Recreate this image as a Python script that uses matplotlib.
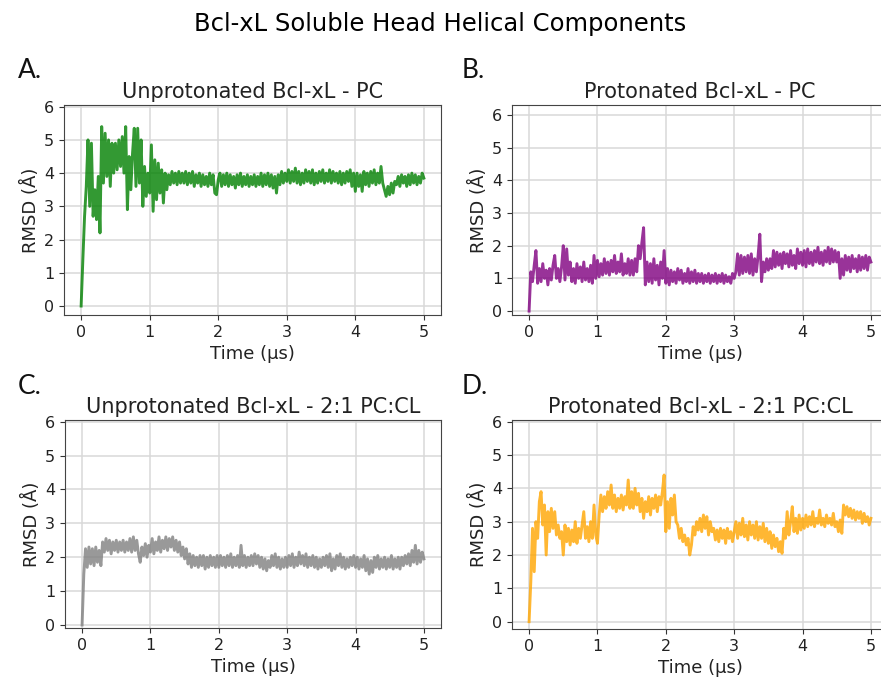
import numpy as np
import matplotlib
matplotlib.use("Agg")
import matplotlib.pyplot as plt

# sampling grid: one frame every 0.025 us, 0..5 us
time_us = np.arange(201) * 0.025

unprot_pc = [
    0.0, 1.4, 2.7, 3.6, 5.0, 3.0, 4.9, 2.7, 3.5, 2.6, 3.9, 2.2, 5.4, 3.7, 5.2, 3.9, 5.0, 3.6, 4.9, 4.0,
    4.9, 4.1, 5.0, 4.2, 5.1, 4.0, 5.4, 2.9, 4.5, 3.5, 4.6, 5.35, 3.6, 5.35, 3.7, 5.0, 3.0, 4.2, 3.3, 4.0,
    3.4, 4.85, 2.85, 4.4, 3.2, 4.3, 3.4, 4.1, 3.1, 4.0, 3.5, 3.95, 3.65, 4.05, 3.7, 4.0, 3.65, 4.05, 3.7, 4.0,
    3.7, 4.05, 3.65, 4.0, 3.7, 4.05, 3.6, 3.95, 3.7, 4.0, 3.6, 3.95, 3.65, 3.9, 3.6, 4.0, 3.65, 3.95, 3.4, 3.35,
    3.8, 4.0, 3.6, 3.95, 3.65, 4.0, 3.6, 3.95, 3.65, 3.9, 3.55, 3.95, 3.65, 4.0, 3.6, 3.9, 3.65, 3.95, 3.6, 3.9,
    3.65, 3.95, 3.6, 3.9, 3.65, 4.0, 3.6, 3.95, 3.65, 4.0, 3.6, 3.95, 3.55, 3.9, 3.4, 3.95, 3.65, 4.05, 3.7, 4.0,
    3.75, 4.1, 3.7, 4.05, 3.75, 4.15, 3.7, 4.05, 3.65, 4.0, 3.7, 4.1, 3.75, 4.05, 3.7, 4.1, 3.65, 4.0, 3.7, 4.05,
    3.75, 4.1, 3.7, 4.0, 3.75, 4.1, 3.7, 4.05, 3.75, 4.0, 3.7, 4.05, 3.65, 4.0, 3.7, 4.05, 3.75, 4.1, 3.6, 4.0,
    3.45, 4.0, 3.6, 3.95, 3.45, 4.05, 3.65, 4.0, 3.6, 4.05, 3.7, 4.1, 3.65, 4.0, 3.7, 4.2, 3.7, 3.5, 3.3, 3.6,
    3.35, 3.7, 3.4, 3.75, 3.65, 3.9, 3.6, 3.95, 3.7, 3.9, 3.6, 3.95, 3.65, 4.0, 3.7, 3.95, 3.65, 3.9, 3.7, 4.0,
    3.85,
]

prot_pc = [
    0.0, 1.2, 0.9, 1.4, 1.85, 0.85, 1.3, 0.9, 1.45, 1.0, 1.25, 0.8, 1.3, 0.95, 1.4, 1.7, 1.0, 1.3, 0.9, 1.35,
    2.0, 0.95, 1.9, 1.1, 1.5, 0.9, 1.3, 0.85, 1.45, 1.0, 1.35, 0.9, 1.5, 0.95, 1.3, 0.9, 1.4, 0.85, 1.7, 1.0,
    1.55, 1.05, 1.45, 1.1, 1.6, 1.15, 1.5, 1.1, 1.55, 1.2, 1.7, 1.15, 1.5, 1.2, 1.75, 1.1, 1.45, 1.15, 1.6, 1.1,
    1.55, 1.1, 1.6, 1.2, 2.0, 1.6, 2.1, 2.55, 0.8, 1.5, 0.9, 1.45, 0.85, 1.6, 0.95, 1.4, 0.8, 1.5, 1.0, 1.85,
    0.85, 1.3, 0.8, 1.25, 0.9, 1.2, 0.85, 1.3, 0.95, 1.25, 0.85, 1.15, 0.9, 1.3, 0.85, 1.2, 0.9, 1.25, 0.85, 1.15,
    0.9, 1.15, 0.85, 1.1, 0.9, 1.15, 0.85, 1.1, 0.9, 1.15, 0.85, 1.1, 0.9, 1.15, 0.85, 1.1, 0.9, 1.05, 0.85, 1.15,
    1.0, 1.2, 1.75, 1.1, 1.7, 1.15, 1.65, 1.2, 1.7, 1.15, 1.75, 1.1, 1.6, 1.2, 1.7, 2.35, 0.9, 1.5, 1.2, 1.6,
    1.25, 1.6, 1.3, 1.85, 1.35, 1.8, 1.4, 1.75, 1.3, 1.8, 1.45, 1.75, 1.35, 1.85, 1.4, 1.7, 1.3, 1.9, 1.45, 1.8,
    1.4, 1.85, 1.35, 1.9, 1.45, 1.8, 1.4, 1.85, 1.5, 1.95, 1.45, 1.8, 1.4, 1.85, 1.5, 1.95, 1.45, 1.9, 1.5, 1.85,
    1.5, 1.8, 1.0, 1.6, 1.1, 1.7, 1.25, 1.65, 1.2, 1.7, 1.3, 1.6, 1.2, 1.7, 1.25, 1.65, 1.3, 1.7, 1.25, 1.65,
    1.5,
]

unprot_pccl = [
    0.0, 1.5, 2.25, 1.7, 2.3, 1.8, 2.25, 1.75, 2.3, 1.85, 2.2, 1.75, 2.45, 2.15, 2.55, 2.2, 2.5, 2.1, 2.45, 2.2,
    2.5, 2.15, 2.45, 2.2, 2.5, 2.15, 2.45, 2.2, 2.55, 2.15, 2.6, 2.2, 2.5, 2.1, 1.85, 2.3, 2.05, 2.4, 2.0, 2.35,
    2.15, 2.55, 2.1, 2.45, 2.2, 2.6, 2.15, 2.5, 2.25, 2.6, 2.2, 2.55, 2.3, 2.6, 2.2, 2.5, 2.15, 2.45, 2.05, 2.3,
    1.95, 2.25, 1.8, 2.1, 1.7, 2.05, 1.75, 2.0, 1.7, 2.05, 1.75, 2.05, 1.65, 2.0, 1.7, 2.05, 1.75, 2.0, 1.7, 2.05,
    1.7, 2.05, 1.75, 2.0, 1.7, 2.05, 1.75, 2.1, 1.7, 2.0, 1.75, 2.05, 1.7, 2.35, 1.75, 2.05, 1.7, 2.0, 1.75, 2.05,
    1.75, 2.1, 1.8, 2.05, 1.7, 2.0, 1.65, 1.95, 1.6, 1.9, 1.7, 2.05, 1.75, 2.1, 1.7, 2.0, 1.65, 1.95, 1.7, 2.0,
    1.7, 2.05, 1.75, 2.1, 1.7, 2.0, 1.75, 2.15, 1.8, 2.05, 1.75, 2.1, 1.7, 2.0, 1.75, 2.05, 1.7, 2.0, 1.65, 1.95,
    1.7, 2.0, 1.75, 2.05, 1.7, 2.1, 1.6, 1.95, 1.65, 2.05, 1.75, 2.1, 1.7, 2.0, 1.65, 1.95, 1.7, 2.0, 1.75, 2.05,
    1.7, 2.0, 1.65, 1.95, 1.7, 2.05, 1.6, 1.95, 1.5, 1.9, 1.55, 2.0, 1.7, 2.05, 1.65, 1.95, 1.7, 2.0, 1.65, 1.95,
    1.7, 2.05, 1.65, 1.95, 1.7, 2.0, 1.65, 2.0, 1.75, 2.05, 1.8, 2.1, 1.75, 2.2, 1.85, 2.35, 1.8, 2.2, 1.85, 2.15,
    1.95,
]

prot_pccl = [
    0.0, 1.2, 2.8, 1.5, 3.0, 2.5, 3.6, 3.9, 2.9, 3.5, 2.0, 3.3, 2.7, 3.4, 2.8, 3.3, 2.6, 2.9, 2.5, 2.7,
    2.0, 2.9, 2.4, 2.8, 2.3, 2.75, 2.4, 3.0, 2.35, 2.8, 2.5, 2.9, 3.3, 2.5, 2.85, 2.4, 3.0, 2.5, 3.5, 2.6,
    2.35, 3.2, 3.8, 3.3, 3.75, 3.4, 3.9, 3.5, 4.1, 3.4, 3.8, 3.3, 3.7, 3.4, 3.8, 3.35, 3.75, 3.5, 4.25, 3.4,
    3.9, 3.4, 4.0, 3.5, 3.85, 3.3, 3.7, 3.1, 3.6, 3.3, 3.75, 3.2, 3.7, 3.4, 3.8, 3.3, 3.75, 3.5, 3.9, 4.4,
    2.7, 3.6, 2.8, 3.7, 3.2, 3.8, 3.0, 2.9, 2.5, 2.8, 2.4, 2.6, 2.3, 2.5, 2.0, 2.3, 2.85, 2.6, 3.0, 2.75,
    3.1, 2.7, 3.2, 2.8, 3.15, 2.6, 3.0, 2.7, 2.8, 2.45, 2.75, 2.4, 2.8, 2.5, 2.75, 2.35, 2.8, 2.5, 2.7, 2.4,
    2.7, 3.0, 2.5, 2.95, 2.6, 3.1, 2.55, 2.9, 2.45, 3.0, 2.6, 2.9, 2.5, 3.0, 2.45, 2.85, 2.5, 2.95, 2.4, 2.8,
    2.35, 2.7, 2.2, 2.6, 2.25, 2.5, 2.1, 2.4, 2.05, 2.8, 2.5, 3.3, 2.6, 3.0, 3.45, 2.7, 3.1, 2.65, 3.2, 2.75,
    3.1, 2.8, 3.2, 2.85, 3.15, 2.9, 3.3, 2.85, 3.1, 2.95, 3.35, 2.9, 3.1, 2.85, 3.2, 2.95, 3.1, 2.9, 3.25, 2.85,
    3.0, 2.7, 3.05, 2.65, 3.5, 3.2, 3.45, 3.15, 3.4, 3.1, 3.35, 3.05, 3.3, 3.1, 3.3, 2.95, 3.25, 3.0, 3.15, 2.9,
    3.1,
]

titles = ["Unprotonated Bcl-xL - PC", "Protonated Bcl-xL - PC",
          "Unprotonated Bcl-xL - 2:1 PC:CL", "Protonated Bcl-xL - 2:1 PC:CL"]
panel_tags = ["A.", "B.", "C.", "D."]
colors = ["green", "purple", "gray", "orange"]
series = [unprot_pc, prot_pc, unprot_pccl, prot_pccl]

W, H = 881, 686
# axes boxes in pixels: left, top, right, bottom
boxes = [(64, 105, 441, 315), (512, 105, 888, 315),
         (65, 420, 441, 628), (512, 420, 888, 629)]
ylims = [(-0.27, 6.05), (-0.12, 6.3), (-0.09, 6.05), (-0.22, 6.05)]
tag_pos = [(18, 78), (462, 78), (18, 394), (462, 394)]

fig = plt.figure(figsize=(W / 100, H / 100), dpi=100)
fig.suptitle("Bcl-xL Soluble Head Helical Components", fontsize=17.5,
             x=0.5, y=1 - 12 / H, va="top")

for i in range(4):
    l, t, r, b = boxes[i]
    ax = fig.add_axes([l / W, 1 - b / H, (r - l) / W, (b - t) / H])
    ax.plot(time_us, series[i], color=colors[i], alpha=0.8, lw=2.1)
    ax.set_xlim(-0.25, 5.25)
    ax.set_ylim(*ylims[i])
    ax.set_xticks(range(6))
    ax.set_yticks(range(7))
    ax.grid(True, color="#d9d9d9", lw=1.1)
    ax.set_axisbelow(True)
    ax.tick_params(labelsize=11.5, colors="#333333", labelcolor="#222222")
    for s in ax.spines.values():
        s.set_color("#444444")
    ax.set_title(titles[i], fontsize=15, color="#222222", pad=5)
    ax.set_xlabel("Time (µs)", fontsize=13, color="#222222", labelpad=4)
    ax.set_ylabel("RMSD (Å)", fontsize=13, color="#222222", labelpad=3)
    fig.text(tag_pos[i][0] / W, 1 - tag_pos[i][1] / H, panel_tags[i],
             fontsize=19, family=["Lato", "DejaVu Sans"], color="#111111")

fig.savefig("out.png", dpi=100)
